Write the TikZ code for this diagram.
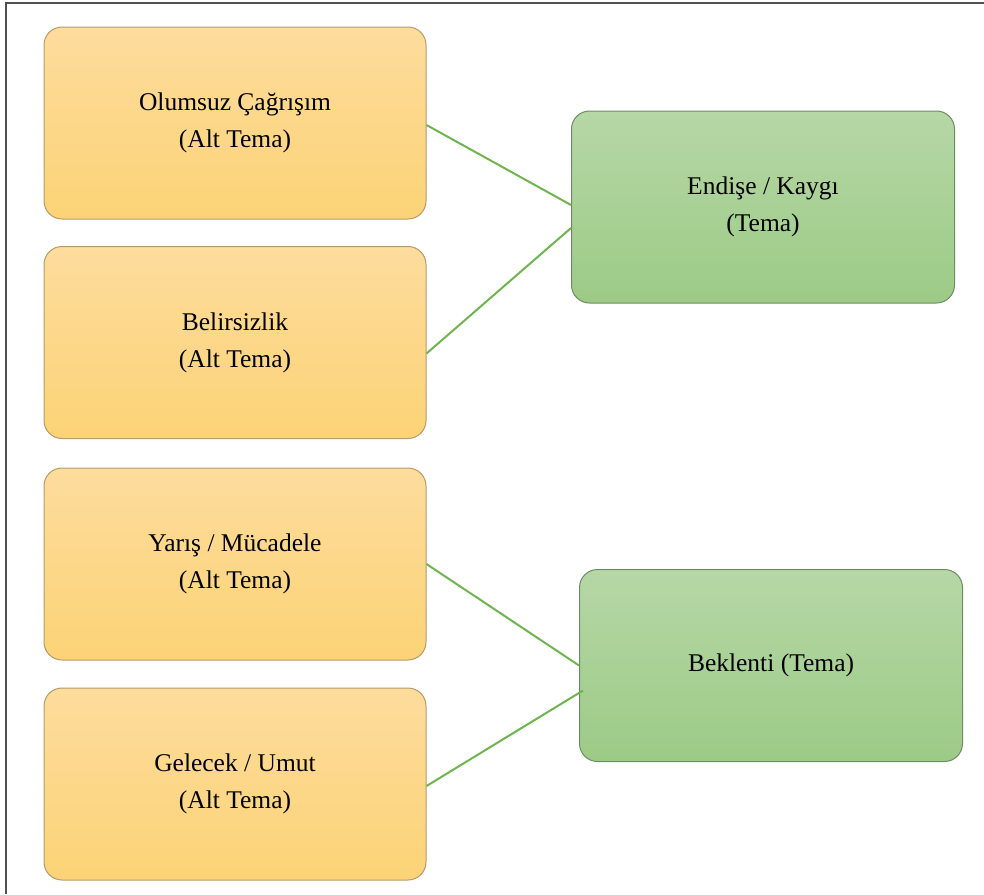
\documentclass[tikz,border=0pt]{standalone}
\usepackage{fontspec}
\setmainfont{Liberation Serif}
\definecolor{orTop}{RGB}{253,220,157}
\definecolor{orBot}{RGB}{252,211,118}
\definecolor{orEdge}{RGB}{180,155,105}
\definecolor{grTop}{RGB}{182,215,166}
\definecolor{grBot}{RGB}{156,203,134}
\definecolor{grEdge}{RGB}{110,140,100}
\definecolor{linkCol}{RGB}{112,180,80}
\definecolor{frameCol}{RGB}{80,80,80}
\tikzset{
  subbox/.style={rectangle, rounded corners=18pt, draw=orEdge, line width=1pt,
    top color=orTop, bottom color=orBot, minimum width=382pt, minimum height=192pt,
    inner sep=0pt, align=center, font=\fontsize{25.5}{37}\selectfont},
  themebox/.style={rectangle, rounded corners=18pt, draw=grEdge, line width=1pt,
    top color=grTop, bottom color=grBot, minimum width=383pt, minimum height=192pt,
    inner sep=0pt, align=center, font=\fontsize{25.5}{37}\selectfont},
  link/.style={draw=linkCol, line width=2pt},
  frameline/.style={draw=frameCol, line width=1.5pt}
}
\begin{document}
\begin{tikzpicture}[x=1pt,y=-1pt]
\useasboundingbox (0,0) rectangle (984,894);
\coordinate (fA) at (6,894);
\coordinate (fB) at (6,3);
\coordinate (fC) at (984,3);
\draw[frameline] (fA) -- (fB) -- (fC);

\node[subbox] (b1) at (235,123) {Olumsuz Çağrışım\\(Alt Tema)};
\node[subbox] (b2) at (235,342.5) {Belirsizlik\\(Alt Tema)};
\node[subbox] (b3) at (235,564) {Yarış / Mücadele\\(Alt Tema)};
\node[subbox] (b4) at (235,784) {Gelecek / Umut\\(Alt Tema)};

\node[themebox] (t1) at (763,207) {Endişe / Kaygı\\(Tema)};
\node[themebox] (t2) at (771,665.5) {Beklenti (Tema)};

\draw[link] ([yshift=-2pt]b1.east) -- ([yshift=2pt]t1.west);
\draw[link] ([yshift=-11pt]b2.east) -- ([yshift=-21pt]t1.west);
\draw[link] (b3.east) -- (t2.west);
\draw[link] ([yshift=-2pt]b4.east) -- ([xshift=4pt,yshift=-25pt]t2.west);
\end{tikzpicture}
\end{document}
